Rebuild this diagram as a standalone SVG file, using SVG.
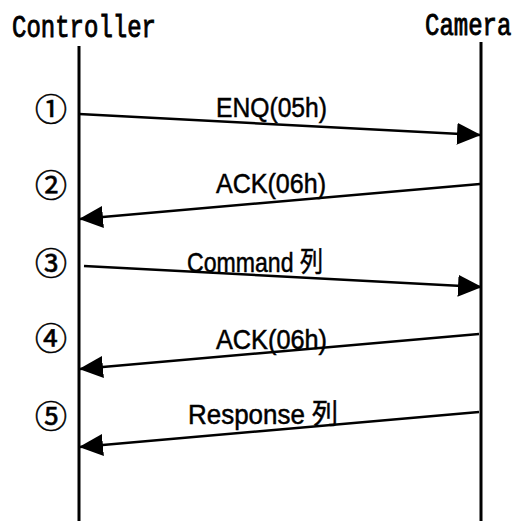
<svg xmlns="http://www.w3.org/2000/svg" width="517" height="521" viewBox="0 0 517 521">
<style>
.life{stroke:#000;stroke-width:3;fill:none}
.msg{stroke:#000;stroke-width:2.5;fill:none;marker-end:url(#ah)}
.head{font-family:"Liberation Mono","Noto Sans CJK JP",monospace;font-size:24px;fill:#000;stroke:#000;stroke-width:0.7}
.lbl{font-family:"Liberation Sans","Noto Sans CJK JP",sans-serif;font-size:28px;fill:#000;stroke:#000;stroke-width:0.5}
.num{font-family:"Noto Sans CJK JP",sans-serif;font-size:32px;fill:#000;stroke:#000;stroke-width:0.6;text-anchor:middle}
</style>
<defs>
<marker id="ah" viewBox="0 0 24 22" refX="23" refY="11" markerWidth="24" markerHeight="22" markerUnits="userSpaceOnUse" orient="auto">
<path d="M0,0 L24,11 L0,22 z" fill="#000"/>
</marker>
</defs>
<rect width="517" height="521" fill="#fff"/>
<g id="controller">
<text class="head" transform="translate(12,37) scale(1,1.3)">Controller</text>
<line class="life" x1="79" y1="46" x2="79" y2="521"/>
</g>
<g id="camera">
<text class="head" transform="translate(425,35) scale(1,1.3)">Camera</text>
<line class="life" x1="481" y1="42" x2="481" y2="521"/>
</g>
<g id="steps">
<text class="num" x="51" y="121">①</text>
<text class="num" x="51" y="197">②</text>
<text class="num" x="51" y="275">③</text>
<text class="num" x="51" y="350">④</text>
<text class="num" x="51" y="428">⑤</text>
</g>
<g id="connectors">
<line class="msg" x1="79" y1="114" x2="480" y2="135"/>
<line class="msg" x1="480" y1="184" x2="80" y2="219"/>
<line class="msg" x1="84" y1="266" x2="481" y2="287"/>
<line class="msg" x1="479" y1="334" x2="80" y2="369"/>
<line class="msg" x1="479" y1="412" x2="80" y2="447"/>
</g>
<g id="labels">
<text class="lbl" x="216" y="117" textLength="111" lengthAdjust="spacingAndGlyphs">ENQ(05h)</text>
<text class="lbl" x="216" y="193" textLength="110" lengthAdjust="spacingAndGlyphs">ACK(06h)</text>
<text class="lbl" x="187" y="272" textLength="136" lengthAdjust="spacingAndGlyphs">Command 列</text>
<text class="lbl" x="216" y="349" textLength="111" lengthAdjust="spacingAndGlyphs">ACK(06h)</text>
<text class="lbl" x="188" y="424" textLength="150" lengthAdjust="spacingAndGlyphs">Response 列</text>
</g>
</svg>
